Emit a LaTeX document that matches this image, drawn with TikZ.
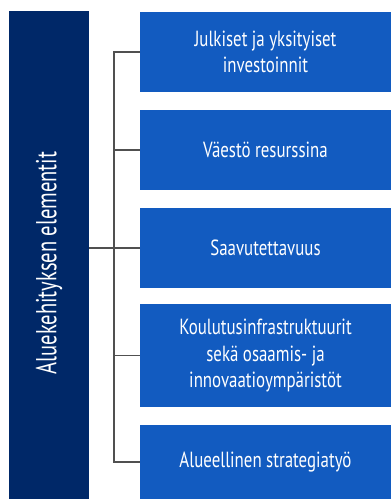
\documentclass[tikz,border=0pt]{standalone}
\usepackage{fontspec}
\setmainfont{PT Sans}[FakeStretch=0.77]
\newfontfamily\sidefont{PT Sans}[FakeStretch=0.71]
\definecolor{navy}{RGB}{0,40,104}
\definecolor{boxblue}{RGB}{18,91,192}
\definecolor{linegray}{RGB}{80,80,80}
\begin{document}
\begin{tikzpicture}[x=1bp,y=-1bp,
  itembox/.style={fill=boxblue, draw=none, text=white, align=center, font=\fontsize{22}{26.5}\selectfont},
  conn/.style={draw=linegray, line width=1.3bp}]
\useasboundingbox (0,0) rectangle (391,499);
\fill[navy] (9,11) rectangle (89,499);
\node[rotate=90, text=white, font=\sidefont\fontsize{29}{34}\selectfont] (main) at (49,263) {Aluekehityksen elementit};
\coordinate (mainR) at (89,248);
\coordinate (jn) at (114,248);
\coordinate (top) at (114,52);
\coordinate (bot) at (114,462);
\fill[boxblue] (140,12) rectangle (391,92);
\fill[boxblue] (140,110) rectangle (391,190);
\fill[boxblue] (140,208) rectangle (391,288);
\fill[boxblue] (140,304) rectangle (391,407);
\fill[boxblue] (140,425) rectangle (391,499);
\node[itembox] (b1) at (265.5,52) {Julkiset ja yksityiset\\investoinnit};
\node[itembox] (b2) at (265.5,150) {Väestö resurssina};
\node[itembox] (b3) at (265.5,248) {Saavutettavuus};
\node[itembox] (b4) at (265.5,355.5) {Koulutusinfrastruktuurit\\sekä osaamis- ja\\innovaatioympäristöt};
\node[itembox] (b5) at (265.5,462) {Alueellinen strategiatyö};
\coordinate (e1) at (140,52);
\coordinate (e2) at (140,150);
\coordinate (e3) at (140,248);
\coordinate (e4) at (140,355.5);
\coordinate (e5) at (140,462);
\draw[conn] (mainR) -- (e3);
\draw[conn] (e1) -- (top) -- (bot) -- (e5);
\draw[conn] (jn |- e2) -- (e2);
\draw[conn] (jn |- e4) -- (e4);
\end{tikzpicture}
\end{document}
